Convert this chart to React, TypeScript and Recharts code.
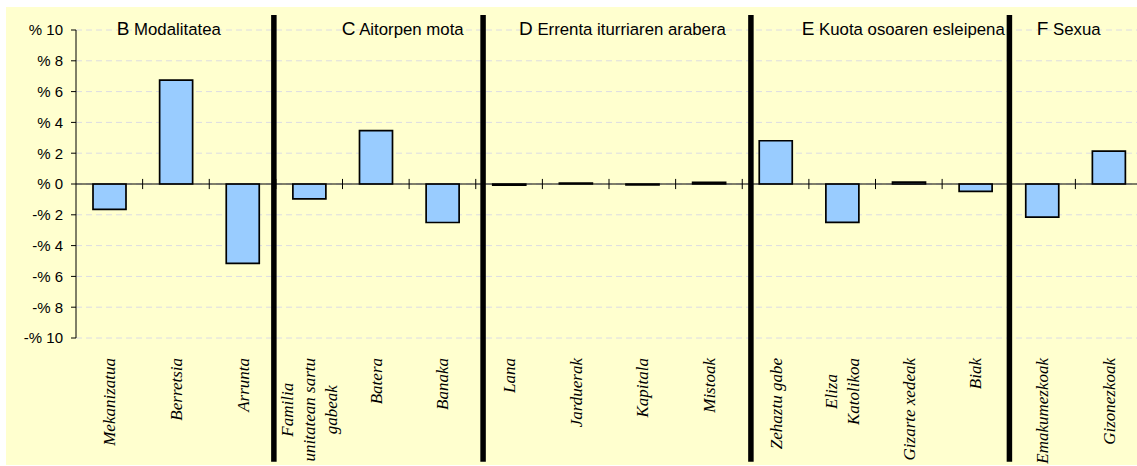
import {
  Bar, BarChart, CartesianGrid, ReferenceLine, XAxis, YAxis,
} from 'recharts'

// categories (multi-line labels), one value per category, in %
const labels: string[][] = [
  ['Mekanizatua'], ['Berretsia'], ['Arrunta'],
  ['Familia', 'unitatean sartu', 'gabeak'], ['Batera'], ['Banaka'],
  ['Lana'], ['Jarduerak'], ['Kapitala'], ['Mistoak'],
  ['Zehaztu gabe'], ['Eliza', 'Katolikoa'], ['Gizarte xedeak'], ['Biak'],
  ['Emakumezkoak'], ['Gizonezkoak'],
]
const values = [
  -1.65, 6.75, -5.15,
  -0.97, 3.46, -2.5,
  -0.08, 0.06, -0.06, 0.1,
  2.81, -2.49, 0.12, -0.48,
  -2.15, 2.14,
]
const yTicks = [-10, -8, -6, -4, -2, 0, 2, 4, 6, 8, 10]
// thick group separators, in category units
const separators = [2.97, 6.11, 10.13, 14.01]
// section titles: letter, text, left x (px)
const titleLetters = ['B', 'C', 'D', 'E', 'F']
const titleTexts = ['Modalitatea', 'Aitorpen mota', 'Errenta iturriaren arabera', 'Kuota osoaren esleipena', 'Sexua']
const titleX = [110.7, 335.7, 513, 795.7, 1030.7]

const data = values.map((v, i) => ({ x: i + 0.5, value: v }))
const tickPos = data.map(d => d.x)
const boundaries = labels.map((_, i) => i).slice(1)

const LABEL_FONT = 'italic 17px "Liberation Serif"'
let ctx: CanvasRenderingContext2D | null = null
function measure(s: string) {
  if (!ctx) ctx = document.createElement('canvas').getContext('2d')
  if (!ctx) return s.length * 7
  ctx.font = LABEL_FONT
  return ctx.measureText(s).width
}

function CatTick(props: any) {
  const { x, y, payload } = props
  const lines = labels[Math.floor(payload.value)] || []
  const maxW = Math.max(...lines.map(measure))
  const n = lines.length
  return (
    <g transform={`translate(${x},${y + 20}) rotate(-90)`}>
      {lines.map((l, i) => (
        <text key={i} x={-maxW / 2} y={(i - (n - 1) / 2) * 22} dy="0.35em" textAnchor="middle"
          fontFamily='"Liberation Serif", serif' fontStyle="italic" fontSize={17} fill="#000">
          {l}
        </text>
      ))}
    </g>
  )
}

const fmtY = (v: number) => (v < 0 ? `-% ${-v}` : `% ${v}`)

export default function App() {
  return (
    <div style={{ position: 'absolute', left: 6, top: 7, width: 1131, height: 458, overflow: 'hidden', background: '#FFFFCF' }}>
      <BarChart width={1140} height={458} data={data} margin={{ top: 23, right: 4, left: 0, bottom: 0 }}>
        <CartesianGrid vertical={false} stroke="#dcdce2" strokeDasharray="6 4" />
        <XAxis type="number" dataKey="x" domain={[0, 16]} ticks={tickPos} interval={0}
          axisLine={false} tickLine={false} tickSize={0} tickMargin={0} height={127} tick={<CatTick />} />
        <YAxis domain={[-10, 10]} ticks={yTicks} interval={0} width={70} tickFormatter={fmtY}
          axisLine={{ stroke: '#000' }} tickLine={{ stroke: '#000' }} tickSize={5} tickMargin={8}
          tick={{ fill: '#000', fontSize: 15, fontFamily: '"Liberation Sans", Arial, sans-serif' }} />
        <ReferenceLine y={0} stroke="#000" strokeWidth={1} />
        {boundaries.map(b => (
          <ReferenceLine key={b} segment={[{ x: b, y: 0.33 }, { x: b, y: -0.33 }]} stroke="#000" strokeWidth={1} ifOverflow="visible" />
        ))}
        <Bar dataKey="value" barSize={33} fill="#99CCFF" stroke="#000" strokeWidth={1.7} isAnimationActive={false} />
        {separators.map(s => (
          <ReferenceLine key={s} segment={[{ x: s, y: 10.97 }, { x: s, y: -18.03 }]} stroke="#000" strokeWidth={5.5} ifOverflow="visible" />
        ))}
      </BarChart>
      <svg width={1131} height={60} style={{ position: 'absolute', left: 0, top: 0, pointerEvents: 'none' }}>
        {titleTexts.map((t, i) => (
          <text key={t} x={titleX[i]} y={28} fontFamily='"Liberation Sans", Arial, sans-serif' fill="#000">
            <tspan fontSize={19}>{titleLetters[i]}</tspan>
            <tspan fontSize={16.8}> {t}</tspan>
          </text>
        ))}
      </svg>
    </div>
  )
}
